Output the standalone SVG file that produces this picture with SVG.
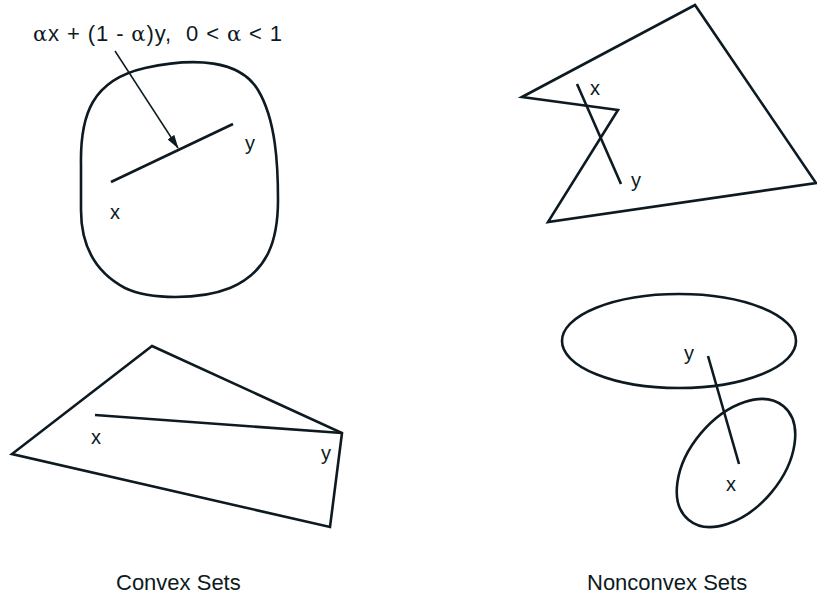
<svg xmlns="http://www.w3.org/2000/svg" width="817" height="602" viewBox="0 0 817 602">
<style>
.s{fill:none;stroke:#0d1a22;stroke-width:2.6;stroke-linejoin:miter}
.a{fill:none;stroke:#0d1a22;stroke-width:1.5}
text{font-family:"Liberation Sans",Arial,sans-serif;fill:#0d1a22;font-size:20px;white-space:pre}
.cap{font-size:22px}
.al{font-family:"DejaVu Serif","Liberation Serif",serif;font-size:21px}
</style>
<defs>
<marker id="ah" markerWidth="14" markerHeight="8" refX="13" refY="4" orient="auto" markerUnits="userSpaceOnUse">
<path d="M0,0 L14,4 L0,8 Z" fill="#0d1a22"/>
</marker>
</defs>
<rect width="817" height="602" fill="#fff"/>
<g id="convex-blob">
<path class="s" d="M81,165 C80,115 92,80 145,68 C195,57 240,60 258,90 C276,120 278,165 278,200 C278,240 268,272 230,288 C200,300 150,300 125,288 C95,272 81,245 81,210 Z"/>
<path class="s" d="M111,182 L233,124"/>
<text x="110" y="219">x</text>
<text x="245" y="150">y</text>
</g>
<g id="convex-quad">
<path class="s" d="M152,346 L342,433 L330,527 L12,454 Z"/>
<path class="s" d="M95,415 L342,433"/>
<text x="91" y="444">x</text>
<text x="321" y="460">y</text>
</g>
<g id="nonconvex-poly">
<path class="s" d="M522,97 L695,5 L816,183 L548,222 L618,110 Z"/>
<path class="s" d="M577,84 L621,184"/>
<text x="590" y="95">x</text>
<text x="631" y="187">y</text>
</g>
<g id="nonconvex-ellipses">
<ellipse class="s" cx="679" cy="341" rx="117" ry="47"/>
<ellipse class="s" cx="736" cy="463" rx="74" ry="46" transform="rotate(-50 736 463)"/>
<path class="s" d="M708,356 L739,464"/>
<text x="684" y="360">y</text>
<text x="726" y="491">x</text>
</g>
<g id="connectors">
<path class="a" d="M115,51 L178,148" marker-end="url(#ah)"/>
</g>
<g id="labels">
<text x="33" y="41" style="font-size:22px" textLength="249" lengthAdjust="spacing"><tspan class="al">α</tspan>x + (1 - <tspan class="al">α</tspan>)y,  0 &lt; <tspan class="al">α</tspan> &lt; 1</text>
<text class="cap" x="116" y="590">Convex Sets</text>
<text class="cap" x="587" y="590">Nonconvex Sets</text>
</g>
</svg>
